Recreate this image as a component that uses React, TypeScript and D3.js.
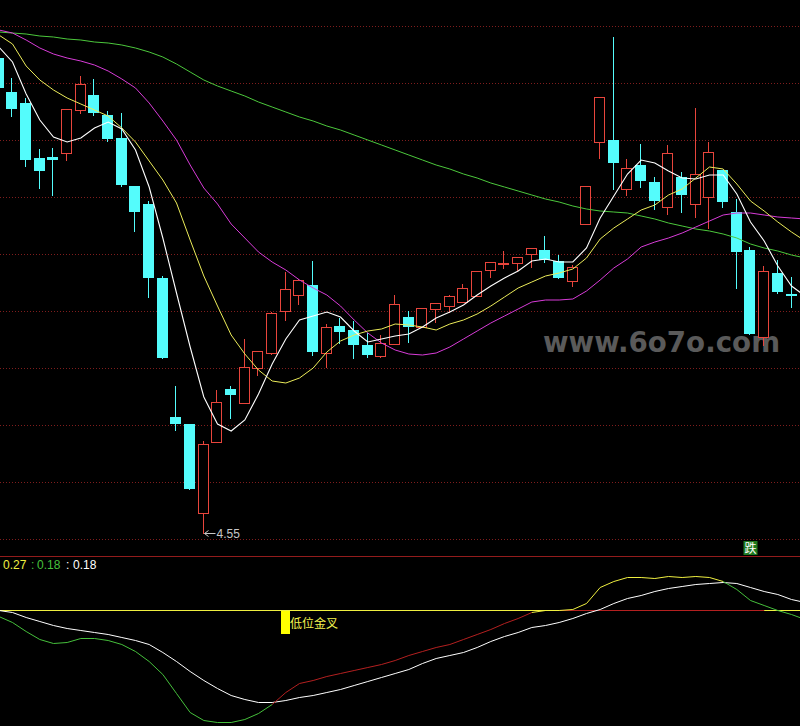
import React from 'react';
import * as d3 from 'd3';

const WIDTH = 800;
const HEIGHT = 726;

// Daily bars (price, yuan)
const opens = [9.30, 8.96, 8.85, 8.30, 8.31, 8.35, 8.78, 8.93, 8.73, 8.50, 8.02, 7.84, 7.10, 5.71, 5.64, 4.75, 5.46, 5.99, 5.85, 6.20, 6.35, 6.77, 6.93, 7.03, 6.35, 6.62, 6.58, 6.43, 6.32, 6.44, 6.71, 6.61, 6.79, 6.82, 6.86, 6.92, 7.18, 7.24, 7.25, 7.34, 7.38, 7.27, 7.07, 7.64, 8.46, 8.48, 7.99, 8.23, 8.06, 7.81, 8.11, 7.84, 7.91, 8.18, 7.76, 7.38, 6.51, 7.15, 6.94];
const highs = [9.33, 9.10, 8.90, 8.39, 8.40, 8.79, 9.12, 9.09, 8.77, 8.75, 8.02, 7.87, 7.12, 6.02, 5.64, 5.47, 5.98, 6.02, 6.49, 6.37, 6.76, 7.16, 7.09, 7.27, 6.64, 6.70, 6.67, 6.55, 6.53, 6.93, 6.77, 6.80, 6.85, 6.93, 7.04, 7.17, 7.26, 7.37, 7.31, 7.40, 7.52, 7.33, 7.23, 8.02, 8.91, 9.51, 8.29, 8.44, 8.11, 8.43, 8.16, 8.80, 8.46, 8.18, 7.89, 7.41, 7.22, 7.28, 7.11];
const lows = [8.96, 8.72, 8.22, 8.00, 7.93, 8.28, 8.75, 8.73, 8.47, 8.02, 7.57, 6.91, 6.30, 5.58, 4.99, 4.55, 5.46, 5.70, 5.85, 6.13, 6.34, 6.68, 6.84, 6.33, 6.21, 6.45, 6.30, 6.31, 6.31, 6.44, 6.46, 6.61, 6.66, 6.76, 6.86, 6.92, 7.11, 7.20, 7.18, 7.21, 7.26, 7.10, 7.02, 7.64, 8.30, 7.99, 7.93, 8.01, 7.79, 7.74, 7.76, 7.71, 7.60, 7.81, 7.00, 6.54, 6.43, 6.95, 6.81];
const closes = [9.00, 8.79, 8.28, 8.17, 8.28, 8.79, 9.04, 8.75, 8.49, 8.03, 7.76, 7.10, 6.30, 5.64, 4.99, 5.44, 5.86, 5.93, 6.21, 6.37, 6.75, 6.99, 7.08, 6.36, 6.61, 6.56, 6.43, 6.33, 6.45, 6.84, 6.61, 6.80, 6.85, 6.92, 7.00, 7.17, 7.26, 7.25, 7.31, 7.40, 7.28, 7.10, 7.21, 8.02, 8.91, 8.25, 8.20, 8.07, 7.87, 8.35, 7.93, 8.14, 8.36, 7.86, 7.36, 6.54, 7.17, 6.96, 6.92];

// Moving averages (one more value than bars: the next session sits just past the right edge)
const ma5 = [9.41, 9.26, 8.94, 8.68, 8.51, 8.46, 8.50, 8.60, 8.66, 8.59, 8.38, 8.01, 7.50, 6.95, 6.41, 5.91, 5.64, 5.57, 5.68, 5.94, 6.24, 6.49, 6.68, 6.72, 6.76, 6.71, 6.57, 6.46, 6.49, 6.52, 6.54, 6.61, 6.70, 6.76, 6.83, 6.93, 7.02, 7.10, 7.17, 7.27, 7.29, 7.26, 7.26, 7.40, 7.70, 7.92, 8.14, 8.28, 8.25, 8.17, 8.10, 8.09, 8.13, 8.13, 7.94, 7.66, 7.47, 7.22, 7.02, 6.92];
const ma10 = [9.53, 9.44, 9.22, 9.08, 8.98, 8.90, 8.84, 8.78, 8.72, 8.60, 8.46, 8.27, 8.08, 7.85, 7.48, 7.12, 6.82, 6.53, 6.34, 6.18, 6.07, 6.05, 6.10, 6.20, 6.36, 6.47, 6.53, 6.57, 6.59, 6.64, 6.63, 6.61, 6.58, 6.64, 6.68, 6.74, 6.82, 6.91, 7.00, 7.06, 7.12, 7.15, 7.19, 7.30, 7.49, 7.60, 7.69, 7.78, 7.83, 7.93, 7.99, 8.10, 8.21, 8.19, 8.04, 7.87, 7.77, 7.66, 7.56, 7.47];
const ma20 = [9.58, 9.55, 9.48, 9.40, 9.34, 9.30, 9.27, 9.23, 9.17, 9.09, 9.00, 8.85, 8.67, 8.48, 8.23, 8.00, 7.84, 7.64, 7.50, 7.36, 7.26, 7.18, 7.08, 7.00, 6.93, 6.82, 6.68, 6.55, 6.45, 6.38, 6.34, 6.33, 6.35, 6.41, 6.49, 6.57, 6.65, 6.72, 6.79, 6.86, 6.88, 6.88, 6.89, 6.97, 7.08, 7.20, 7.29, 7.41, 7.46, 7.50, 7.55, 7.61, 7.67, 7.73, 7.75, 7.75, 7.73, 7.71, 7.70, 7.69];
const ma60 = [9.56, 9.55, 9.54, 9.52, 9.51, 9.49, 9.48, 9.46, 9.45, 9.43, 9.40, 9.36, 9.31, 9.24, 9.16, 9.08, 9.02, 8.97, 8.92, 8.86, 8.81, 8.76, 8.71, 8.67, 8.62, 8.58, 8.53, 8.48, 8.43, 8.38, 8.33, 8.28, 8.23, 8.19, 8.14, 8.10, 8.05, 8.01, 7.97, 7.93, 7.89, 7.86, 7.82, 7.79, 7.77, 7.76, 7.75, 7.72, 7.69, 7.65, 7.62, 7.59, 7.57, 7.54, 7.50, 7.44, 7.40, 7.37, 7.33, 7.30];

// Oscillator: fast line and its smoothed signal
const oscLine = [-0.06, -0.12, -0.21, -0.29, -0.33, -0.32, -0.28, -0.28, -0.30, -0.34, -0.41, -0.51, -0.64, -0.83, -1.02, -1.10, -1.12, -1.12, -1.09, -1.03, -0.94, -0.82, -0.73, -0.70, -0.66, -0.63, -0.60, -0.57, -0.54, -0.50, -0.45, -0.41, -0.37, -0.34, -0.29, -0.24, -0.19, -0.13, -0.08, -0.02, 0.00, 0.00, 0.01, 0.07, 0.23, 0.29, 0.33, 0.33, 0.32, 0.34, 0.33, 0.34, 0.33, 0.29, 0.21, 0.10, 0.05, 0.00, -0.04, -0.09];
const oscSignal = [0.00, -0.02, -0.07, -0.11, -0.15, -0.18, -0.20, -0.22, -0.24, -0.27, -0.30, -0.34, -0.42, -0.51, -0.61, -0.70, -0.78, -0.85, -0.89, -0.92, -0.92, -0.90, -0.87, -0.85, -0.82, -0.79, -0.75, -0.71, -0.67, -0.63, -0.59, -0.53, -0.48, -0.45, -0.42, -0.37, -0.31, -0.26, -0.22, -0.17, -0.15, -0.12, -0.08, -0.03, 0.01, 0.07, 0.12, 0.15, 0.19, 0.22, 0.24, 0.26, 0.27, 0.28, 0.27, 0.23, 0.19, 0.16, 0.11, 0.08];

const oscHeader = ['0.27', '0.18', '0.18'];
const crossText = '低位金叉';
const crossBar = 21;
const fallText = '跌';
const fallBar = 55;
const siteMark = 'www.6o7o.com';

const C = {
  bg: '#000000',
  grid: '#7f1d1d',
  divider: '#931c1c',
  up: '#e8453c',
  down: '#54fcfc',
  ma5: '#ffffff',
  ma10: '#ecec5a',
  ma20: '#d83cd8',
  ma60: '#4cc83c',
  oscYellow: '#f0f040',
  oscRed: '#b42020',
  oscGreen: '#46c03c',
  oscWhite: '#ffffff',
  label: '#c8c8c8',
  mark: '#5a5a5a',
};

type Run = { color: string; from: number; to: number };

function colorRuns(count: number, colorOf: (k: number) => string): Run[] {
  const out: Run[] = [];
  for (let k = 0; k < count - 1; k++) {
    const c = colorOf(k);
    const last = out[out.length - 1];
    if (last && last.color === c && last.to === k) last.to = k + 1;
    else out.push({ color: c, from: k, to: k + 1 });
  }
  return out;
}

export default function App() {
  const lastBar = closes.length - 1;
  const x = d3.scaleLinear().domain([0, lastBar]).range([-1.167, 791.5]);
  const y = d3.scaleLinear().domain([4.55, 9.88]).range([533, 0]);
  const yo = d3.scaleLinear().domain([-1.15, 0.35]).range([725.5, 575.5]);

  const maLine = d3
    .line<number>()
    .x((_, i) => x(i))
    .y((v) => y(v));

  const gridYs = d3.range(10).map((k) => 26.5 + 57 * k);

  const candles = closes.map((c, i) => {
    const o = opens[i];
    const up = c >= o;
    const left = Math.floor(x(i) - 5.5);
    const wx = left + 5.5;
    const top = Math.round(y(Math.max(o, c)));
    const bot = Math.round(y(Math.min(o, c)));
    const hi = Math.round(y(highs[i]));
    const lo = Math.round(y(lows[i]));
    if (up) {
      const h = Math.max(bot - top, 1);
      return (
        <g key={i}>
          {hi < top && <line x1={wx} x2={wx} y1={hi} y2={top} stroke={C.up} />}
          {lo > top + h && <line x1={wx} x2={wx} y1={top + h} y2={lo + 1} stroke={C.up} />}
          <rect x={left + 0.5} y={top + 0.5} width={10} height={h} fill={C.bg} stroke={C.up} />
        </g>
      );
    }
    return (
      <g key={i}>
        <line x1={wx} x2={wx} y1={hi} y2={lo + 1} stroke={C.down} />
        <rect x={left} y={top} width={11} height={Math.max(bot - top, 1)} fill={C.down} />
      </g>
    );
  });

  // lowest low marker
  const lowIdx = d3.minIndex(lows);
  const lowX = Math.floor(x(lowIdx) - 5.5) + 5.5;
  const lowY = Math.round(y(lows[lowIdx]));

  // oscillator pieces
  const n = oscLine.length;
  const oscPath = (from: number, to: number, vals: number[]) =>
    d3
      .line<number>()
      .x((i) => x(i))
      .y((i) => yo(vals[i]))(d3.range(from, to + 1)) || '';

  const zeroRuns = colorRuns(n, (k) => (oscLine[k + 1] > 0.005 ? C.oscRed : C.oscYellow));
  const fastRuns = colorRuns(n, (k) => {
    const v = oscLine[k + 1];
    if (v < oscSignal[k + 1]) return C.oscGreen;
    return v < 0 ? C.oscRed : C.oscYellow;
  });

  const crossLeft = Math.floor(x(crossBar) - 5.5) + 1;
  const fallCx = Math.floor(x(fallBar)) + 0.5;

  return (
    <svg
      width={WIDTH}
      height={HEIGHT}
      style={{ position: 'absolute', left: 0, top: 0, background: C.bg, display: 'block' }}
    >
      <defs>
        <clipPath id="mainClip">
          <rect x={0} y={0} width={WIDTH} height={556} />
        </clipPath>
        <clipPath id="oscClip">
          <rect x={0} y={557} width={WIDTH} height={HEIGHT - 557} />
        </clipPath>
      </defs>
      <rect x={0} y={0} width={WIDTH} height={HEIGHT} fill={C.bg} />

      {/* price panel */}
      <g clipPath="url(#mainClip)">
        {gridYs.map((gy) => (
          <line key={gy} x1={0} x2={WIDTH} y1={gy} y2={gy} stroke={C.grid} strokeDasharray="1 2" />
        ))}
        <text
          x={543}
          y={352}
          fill={C.mark}
          fontFamily="'DejaVu Sans', sans-serif"
          fontWeight="bold"
          fontSize={28}
          textLength={237}
          lengthAdjust="spacingAndGlyphs"
        >
          {siteMark}
        </text>
        {candles}
        <path d={maLine(ma60) || ''} fill="none" stroke={C.ma60} strokeWidth={1} />
        <path d={maLine(ma20) || ''} fill="none" stroke={C.ma20} strokeWidth={1} />
        <path d={maLine(ma10) || ''} fill="none" stroke={C.ma10} strokeWidth={1} />
        <path d={maLine(ma5) || ''} fill="none" stroke={C.ma5} strokeWidth={1.1} />

        <g stroke={C.label} fill="none">
          <line x1={lowX + 1} x2={lowX + 12} y1={lowY + 0.5} y2={lowY + 0.5} />
          <polyline points={`${lowX + 5},${lowY - 2.5} ${lowX + 1},${lowY + 0.5} ${lowX + 5},${lowY + 3.5}`} />
        </g>
        <text x={lowX + 13} y={lowY + 5} fill={C.label} fontSize={12} fontFamily="'Liberation Sans', Arial, sans-serif">
          {d3.format('.2f')(lows[lowIdx])}
        </text>

        <rect x={fallCx - 7} y={541} width={14} height={14} fill="#1f7a1f" />
        <text
          x={fallCx}
          y={552.5}
          fill="#ffffff"
          fontSize={12}
          textAnchor="middle"
          fontFamily="'Noto Sans CJK SC', sans-serif"
        >
          {fallText}
        </text>
      </g>

      <line x1={0} x2={WIDTH} y1={556.5} y2={556.5} stroke={C.divider} />

      {/* oscillator panel */}
      <text x={3} y={569} fontSize={12} fontFamily="'Liberation Sans', Arial, sans-serif">
        <tspan x={3} fill={C.oscYellow}>{oscHeader[0]}</tspan>
        <tspan x={31} fill={C.oscGreen}>:</tspan>
        <tspan x={37} fill={C.oscGreen}>{oscHeader[1]}</tspan>
        <tspan x={66} fill={C.oscWhite}>:</tspan>
        <tspan x={73} fill={C.oscWhite}>{oscHeader[2]}</tspan>
      </text>
      <g clipPath="url(#oscClip)" fill="none">
        {zeroRuns.map((r, i) => (
          <line key={`z${i}`} x1={x(r.from)} x2={x(r.to)} y1={yo(0)} y2={yo(0)} stroke={r.color} />
        ))}
        <path d={oscPath(0, n - 1, oscSignal)} stroke={C.oscWhite} strokeWidth={1} />
        {fastRuns.map((r, i) => (
          <path key={`f${i}`} d={oscPath(r.from, r.to, oscLine)} stroke={r.color} strokeWidth={1} />
        ))}
      </g>
      <rect x={crossLeft} y={611} width={9} height={23} fill="#ffff00" />
      <text
        x={crossLeft + 9}
        y={628}
        fill="#f4f450"
        fontSize={12}
        fontFamily="'Noto Sans CJK SC', sans-serif"
      >
        {crossText}
      </text>
    </svg>
  );
}
